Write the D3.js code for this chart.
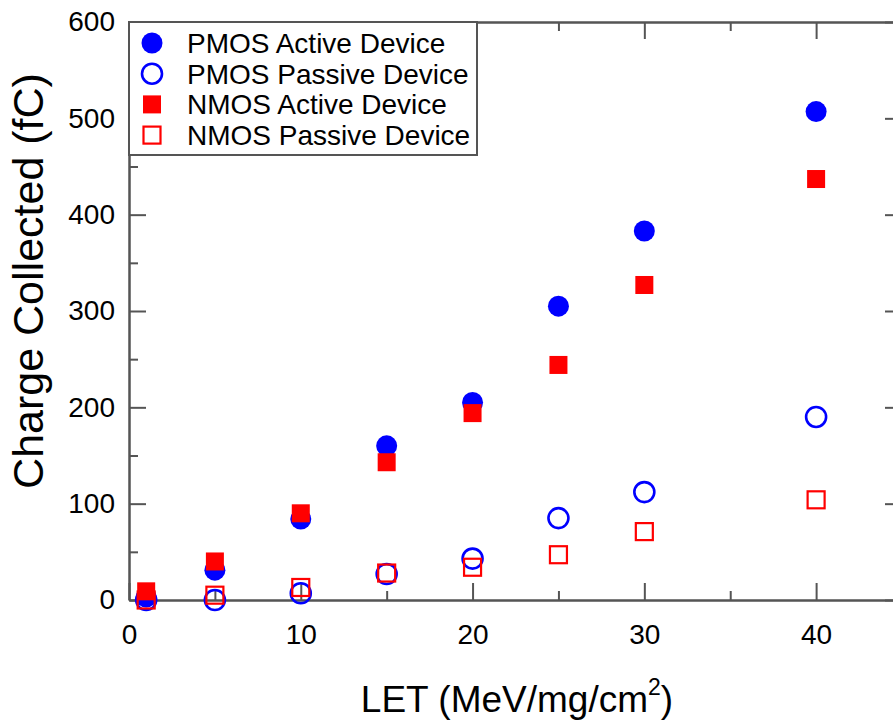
<!DOCTYPE html>
<html>
<head>
<meta charset="utf-8">
<script src="https://cdn.jsdelivr.net/npm/d3@7"></script>
<style>
  body { margin: 0; background: #fff; }
  svg { display: block; font-family: "Liberation Sans", Arial, Helvetica, sans-serif; }
</style>
</head>
<body>
<svg id="chart" width="893" height="720"></svg>
<script>
// LET values (MeV/mg/cm2)
const letValues = [1, 5, 10, 15, 20, 25, 30, 40]

// charge collected (fC)
const pmosActive = [3, 31, 84, 160, 205, 305, 383, 507]
const pmosPassive = [0, 0, 7, 27, 43, 85, 112, 190]
const nmosActive = [9, 40, 90, 143, 194, 244, 327, 437]
const nmosPassive = [0, 5, 13, 28, 34, 47, 71, 104]

const xMajor = [0, 10, 20, 30, 40]
const xMinor = [5, 15, 25, 35, 45]
const yMajor = [0, 100, 200, 300, 400, 500, 600]
const yMinor = [50, 150, 250, 350, 450, 550]

const series = [
  { name: 'PMOS Active Device', values: pmosActive, shape: 'circle', filled: true, color: '#0000ff' },
  { name: 'PMOS Passive Device', values: pmosPassive, shape: 'circle', filled: false, color: '#0000ff' },
  { name: 'NMOS Active Device', values: nmosActive, shape: 'square', filled: true, color: '#ff0000' },
  { name: 'NMOS Passive Device', values: nmosPassive, shape: 'square', filled: false, color: '#ff0000' }
]

const svg = d3.select('#chart')
const margin = { top: 22, left: 129 }
const plotW = 773
const plotH = 578

const x = d3.scaleLinear().domain([0, 45]).range([margin.left, margin.left + plotW])
const y = d3.scaleLinear().domain([0, 600]).range([margin.top + plotH, margin.top])

const axisColor = '#555'

function styleAxis(g) {
  g.selectAll('path, line').attr('stroke', axisColor).attr('stroke-width', 2)
  g.selectAll('text').attr('fill', '#000').attr('font-size', 28)
}

// bottom axis
svg.append('g')
  .attr('transform', 'translate(0,' + y(0) + ')')
  .call(d3.axisBottom(x).tickValues(xMajor).tickSizeInner(-17).tickSizeOuter(0).tickPadding(24))
  .call(styleAxis)
svg.append('g')
  .attr('transform', 'translate(0,' + y(0) + ')')
  .call(d3.axisBottom(x).tickValues(xMinor).tickSizeInner(-9).tickSizeOuter(0).tickFormat(''))
  .call(styleAxis)

// top axis
svg.append('g')
  .attr('transform', 'translate(0,' + y(600) + ')')
  .call(d3.axisTop(x).tickValues(xMajor).tickSizeInner(-17).tickSizeOuter(0).tickFormat(''))
  .call(styleAxis)
svg.append('g')
  .attr('transform', 'translate(0,' + y(600) + ')')
  .call(d3.axisTop(x).tickValues(xMinor).tickSizeInner(-9).tickSizeOuter(0).tickFormat(''))
  .call(styleAxis)

// left axis
svg.append('g')
  .attr('transform', 'translate(' + x(0) + ',0)')
  .call(d3.axisLeft(y).tickValues(yMajor).tickSizeInner(-17).tickSizeOuter(0).tickPadding(14))
  .call(styleAxis)
svg.append('g')
  .attr('transform', 'translate(' + x(0) + ',0)')
  .call(d3.axisLeft(y).tickValues(yMinor).tickSizeInner(-9).tickSizeOuter(0).tickFormat(''))
  .call(styleAxis)

// right axis
svg.append('g')
  .attr('transform', 'translate(' + x(45) + ',0)')
  .call(d3.axisRight(y).tickValues(yMajor).tickSizeInner(-17).tickSizeOuter(0).tickFormat(''))
  .call(styleAxis)
svg.append('g')
  .attr('transform', 'translate(' + x(45) + ',0)')
  .call(d3.axisRight(y).tickValues(yMinor).tickSizeInner(-9).tickSizeOuter(0).tickFormat(''))
  .call(styleAxis)

// markers
function drawMarker(g, s, cx, cy) {
  if (s.shape === 'circle') {
    if (s.filled) {
      g.append('circle').attr('cx', cx).attr('cy', cy).attr('r', 10.5).attr('fill', s.color)
    } else {
      g.append('circle').attr('cx', cx).attr('cy', cy).attr('r', 10)
        .attr('fill', 'none').attr('stroke', s.color).attr('stroke-width', 2.6)
    }
  } else {
    if (s.filled) {
      g.append('rect').attr('x', cx - 9).attr('y', cy - 9).attr('width', 18).attr('height', 18)
        .attr('fill', s.color)
    } else {
      g.append('rect').attr('x', cx - 8.5).attr('y', cy - 8.5).attr('width', 17).attr('height', 17)
        .attr('fill', 'none').attr('stroke', s.color).attr('stroke-width', 2.2)
    }
  }
}

const marks = svg.append('g')
series.forEach(function(s) {
  s.values.forEach(function(v, i) {
    drawMarker(marks, s, x(letValues[i]), y(v))
  })
})

// legend
const legend = svg.append('g')
legend.append('rect')
  .attr('x', x(0)).attr('y', y(600))
  .attr('width', 348).attr('height', 133)
  .attr('fill', '#fff').attr('stroke', axisColor).attr('stroke-width', 2)

series.forEach(function(s, i) {
  const cy = 43 + i * 30.7
  drawMarker(legend, s, 152, cy)
  legend.append('text')
    .attr('x', 187).attr('y', cy)
    .attr('dy', '0.36em')
    .attr('font-size', 28)
    .attr('fill', '#000')
    .text(s.name)
})

// axis titles
const xTitle = svg.append('text')
  .attr('x', 517).attr('y', 712)
  .attr('text-anchor', 'middle')
  .attr('font-size', 37)
  .attr('fill', '#000')
xTitle.append('tspan').text('LET (MeV/mg/cm')
xTitle.append('tspan').attr('font-size', 23).attr('dy', -17).text('2')
xTitle.append('tspan').attr('dy', 17).text(')')

svg.append('text')
  .attr('transform', 'translate(43,281) rotate(-90)')
  .attr('text-anchor', 'middle')
  .attr('font-size', 43)
  .attr('fill', '#000')
  .text('Charge Collected (fC)')
</script>
</body>
</html>
